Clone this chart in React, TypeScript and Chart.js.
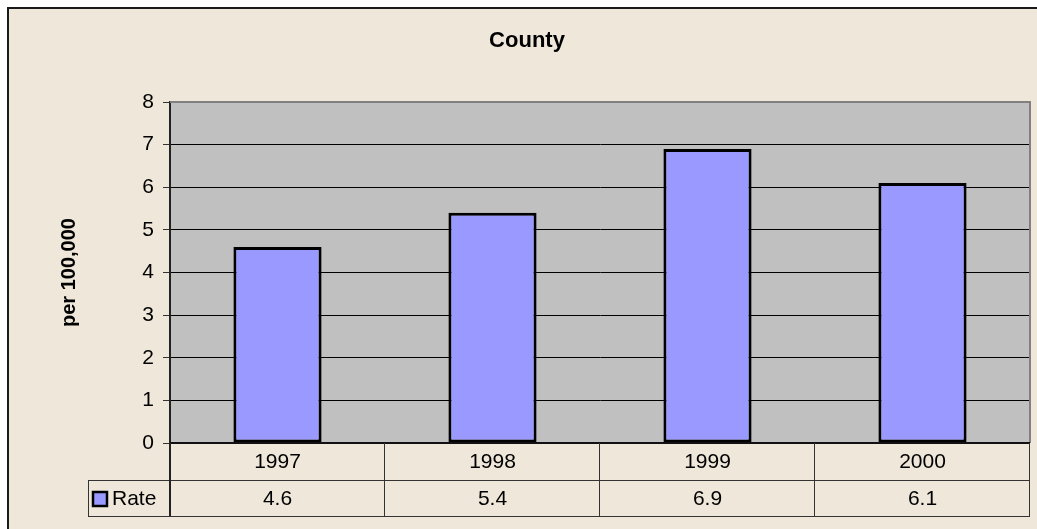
import React, { useEffect, useRef } from "react";
import { Chart, registerables } from "chart.js";

Chart.register(...registerables);

const categories = ["1997", "1998", "1999", "2000"];
const rateValues = [4.6, 5.4, 6.9, 6.1];
const seriesName = "Rate";
const chartTitle = "County";
const yAxisTitle = "per 100,000";
const yMin = 0;
const yMax = 8;
const yStep = 1;

const FONT = "'Liberation Sans', Arial, sans-serif";
const BG = "#EFE8DA";
const PLOT_BG = "#C0C0C0";
const BAR = "#9999FF";

const decorPlugin = {
  id: "decor",
  beforeDraw(chart: any) {
    const { ctx, width, height, chartArea } = chart;
    ctx.save();
    ctx.fillStyle = "#FFFFFF";
    ctx.fillRect(0, 0, width, height);
    ctx.fillStyle = BG;
    ctx.fillRect(9, 9, width - 9, height - 9);
    ctx.strokeStyle = "#1a1a1a";
    ctx.lineWidth = 2;
    ctx.beginPath();
    ctx.moveTo(8, height);
    ctx.lineTo(8, 8);
    ctx.lineTo(width, 8);
    ctx.stroke();
    // plot area
    ctx.fillStyle = PLOT_BG;
    ctx.fillRect(chartArea.left, chartArea.top, chartArea.right - chartArea.left, chartArea.bottom - chartArea.top);
    // title
    ctx.fillStyle = "#000";
    ctx.font = `bold 22px ${FONT}`;
    ctx.textAlign = "center";
    ctx.textBaseline = "alphabetic";
    ctx.fillText(chartTitle, 527, 47);
    // y title
    ctx.save();
    ctx.translate(75, (chartArea.top + chartArea.bottom) / 2);
    ctx.rotate(-Math.PI / 2);
    ctx.font = `bold 20px ${FONT}`;
    ctx.textAlign = "center";
    ctx.textBaseline = "alphabetic";
    ctx.fillText(yAxisTitle, 0, 0);
    ctx.restore();
    ctx.restore();
  },
  beforeDatasetsDraw(chart: any) {
    const { ctx, chartArea } = chart;
    ctx.save();
    ctx.strokeStyle = "#808080";
    ctx.lineWidth = 2;
    ctx.beginPath();
    ctx.moveTo(chartArea.left, chartArea.top);
    ctx.lineTo(chartArea.right, chartArea.top);
    ctx.lineTo(chartArea.right, chartArea.bottom);
    ctx.stroke();
    ctx.restore();
  },
  afterDraw(chart: any) {
    const { ctx, chartArea, scales } = chart;
    const x = scales.x;
    const top = chartArea.bottom;
    const row1 = top + 37;
    const row2 = top + 73;
    const legendLeft = 88;
    const n = categories.length;
    const catW = (chartArea.right - chartArea.left) / n;
    ctx.save();
    ctx.strokeStyle = "#111";
    ctx.lineWidth = 2;
    ctx.beginPath();
    ctx.moveTo(chartArea.left, top);
    ctx.lineTo(chartArea.right, top);
    ctx.stroke();
    ctx.strokeStyle = "#333";
    ctx.lineWidth = 1;
    ctx.beginPath();
    ctx.moveTo(legendLeft, row1 + 0.5);
    ctx.lineTo(chartArea.right, row1 + 0.5);
    ctx.moveTo(legendLeft, row2 + 0.5);
    ctx.lineTo(chartArea.right, row2 + 0.5);
    ctx.moveTo(legendLeft + 0.5, row1);
    ctx.lineTo(legendLeft + 0.5, row2);
    for (let i = 0; i <= n; i++) {
      const bx = Math.round(x.getPixelForValue(0) - catW / 2 + i * catW) - 0.5;
      ctx.moveTo(bx, top);
      ctx.lineTo(bx, row2);
    }
    ctx.stroke();
    ctx.strokeStyle = "#222";
    ctx.lineWidth = 2;
    ctx.beginPath();
    ctx.moveTo(chartArea.left, top);
    ctx.lineTo(chartArea.left, row2);
    ctx.stroke();
    ctx.fillStyle = "#000";
    ctx.font = `21px ${FONT}`;
    ctx.textAlign = "center";
    ctx.textBaseline = "middle";
    for (let i = 0; i < n; i++) {
      const cx = x.getPixelForValue(i);
      ctx.fillText(categories[i], cx, (top + row1) / 2 + 1);
      ctx.fillText(String(rateValues[i]), cx, (row1 + row2) / 2 + 1);
    }
    ctx.fillStyle = BAR;
    ctx.fillRect(93, 492, 14, 14);
    ctx.strokeStyle = "#000";
    ctx.lineWidth = 2.5;
    ctx.strokeRect(93, 492, 14, 14);
    ctx.fillStyle = "#000";
    ctx.textAlign = "left";
    ctx.fillText(seriesName, 112, (row1 + row2) / 2 + 1);
    ctx.restore();
  },
};

export default function App() {
  const canvasRef = useRef<HTMLCanvasElement | null>(null);

  useEffect(() => {
    if (!canvasRef.current) return;
    const chart = new Chart(canvasRef.current, {
      type: "bar",
      data: {
        labels: categories,
        datasets: [
          {
            label: seriesName,
            data: rateValues,
            backgroundColor: BAR,
            borderColor: "#000",
            borderWidth: 3,
            borderSkipped: false,
            categoryPercentage: 1,
            barPercentage: 0.41,
          },
        ],
      },
      options: {
        responsive: false,
        animation: false,
        devicePixelRatio: 1,
        layout: { padding: { left: 0, top: 102, right: 7, bottom: 86 } },
        plugins: {
          legend: { display: false },
          title: { display: false },
          tooltip: { enabled: false },
        },
        scales: {
          x: {
            display: false,
            offset: true,
          },
          y: {
            min: yMin,
            max: yMax,
            afterFit(scale: any) {
              scale.width = 170;
            },
            ticks: {
              stepSize: yStep,
              color: "#000",
              font: { family: FONT, size: 21 },
              padding: 9,
            },
            grid: {
              color: (c: any) => (c.tick && c.tick.value === yMax ? "rgba(0,0,0,0)" : "#000"),
              lineWidth: 1,
              tickLength: 7,
              tickColor: "#333",
              drawTicks: true,
            },
            border: { display: true, color: "#222", width: 2 },
          },
        },
      } as any,
      plugins: [decorPlugin],
    });
    return () => chart.destroy();
  }, []);

  return (
    <div style={{ position: "fixed", left: 0, top: 0, width: 1037, height: 529 }}>
      <canvas ref={canvasRef} width={1037} height={529} style={{ display: "block" }} />
    </div>
  );
}
